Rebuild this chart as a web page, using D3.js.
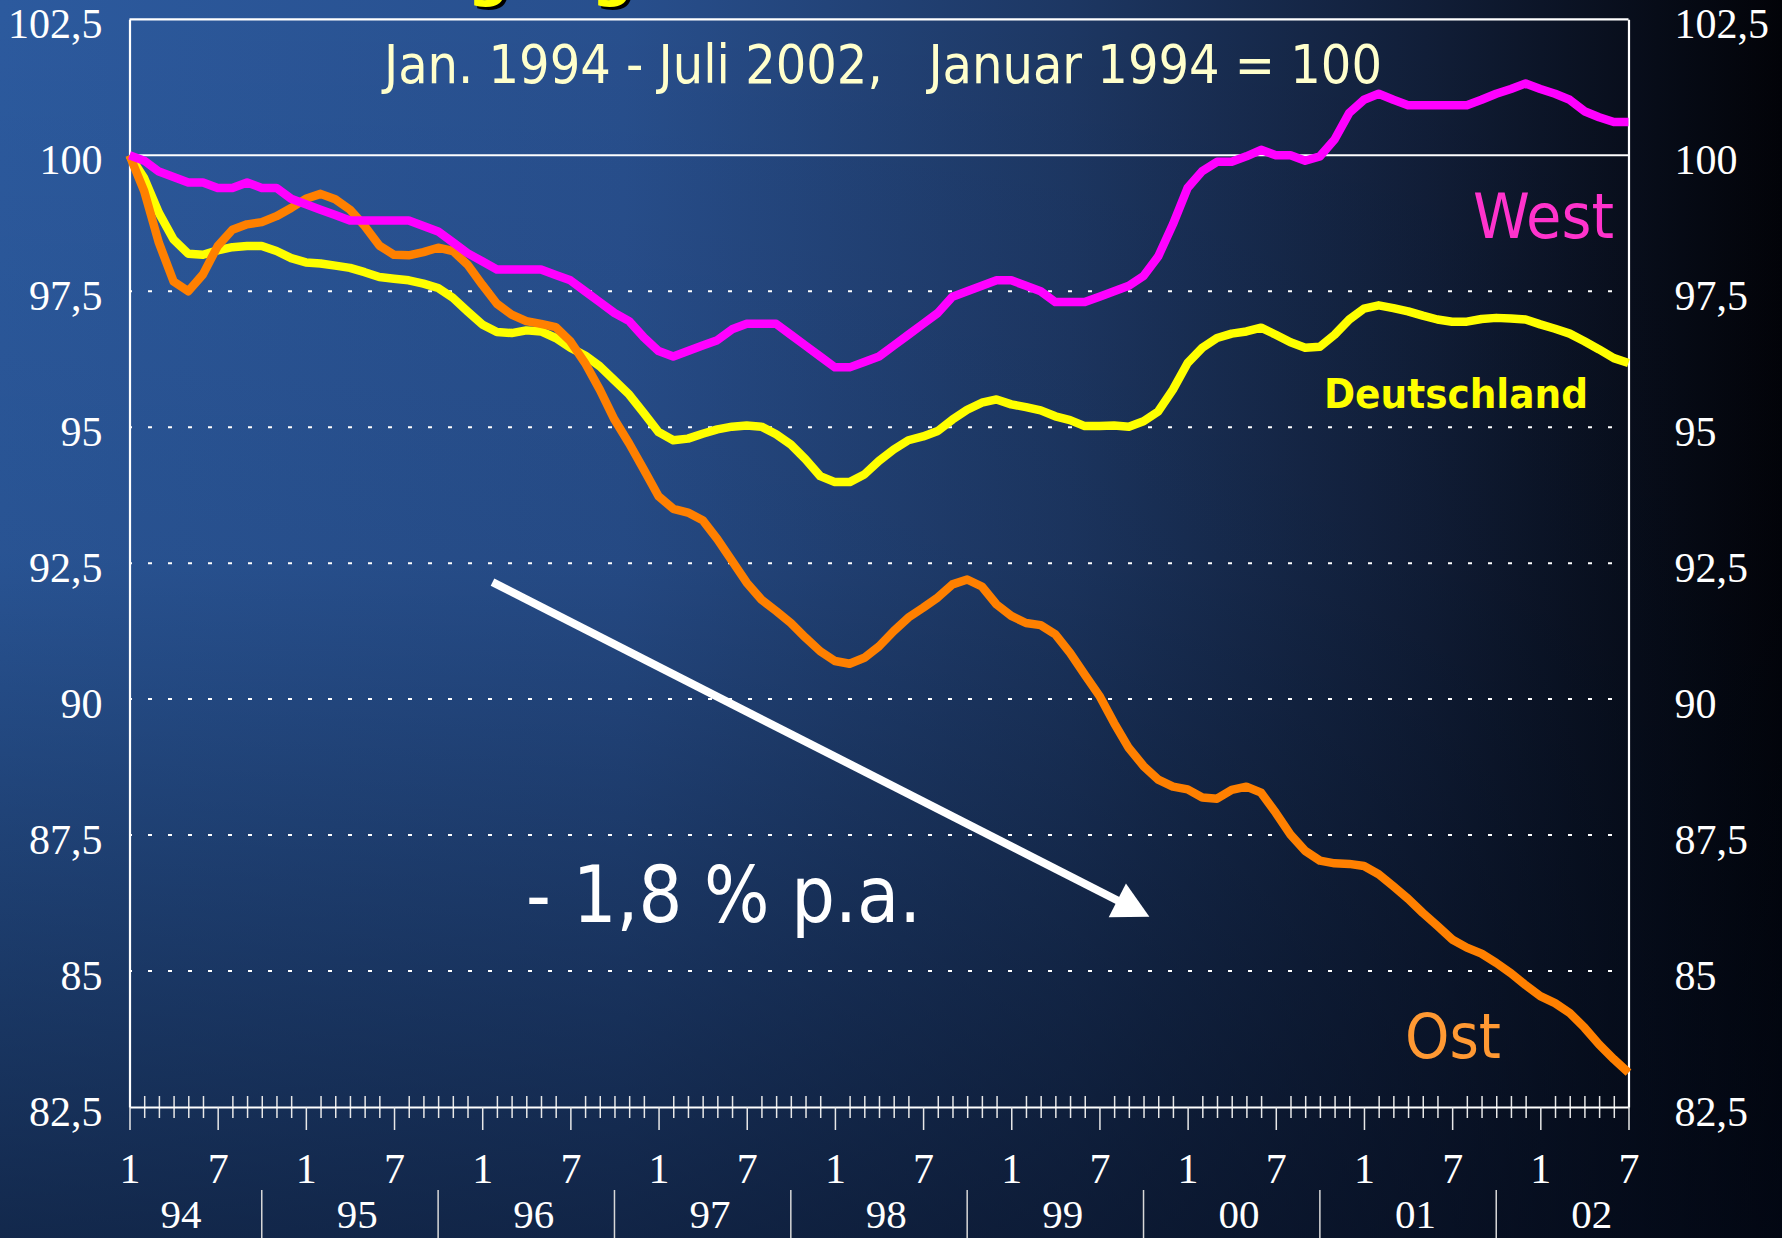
<!DOCTYPE html>
<html>
<head>
<meta charset="utf-8">
<script src="https://cdn.jsdelivr.net/npm/d3@7"></script>
<style>
  html, body { margin: 0; padding: 0; background: #000; overflow: hidden; }
  svg { display: block; }
</style>
</head>
<body>
<div id="chart"></div>
<script>
// 月次データ Jan 1994 - Jul 2002 (Januar 1994 = 100)
const West = [100.0, 99.9, 99.7, 99.6, 99.5, 99.5, 99.4, 99.4, 99.5, 99.4, 99.4, 99.2,
  99.1, 99.0, 98.9, 98.8, 98.8, 98.8, 98.8, 98.8, 98.7, 98.6, 98.4, 98.2,
  98.05, 97.9, 97.9, 97.9, 97.9, 97.8, 97.7, 97.5, 97.3, 97.1, 96.95, 96.65,
  96.4, 96.3, 96.4, 96.5, 96.6, 96.8, 96.9, 96.9, 96.9, 96.7, 96.5, 96.3,
  96.1, 96.1, 96.2, 96.3, 96.5, 96.7, 96.9, 97.1, 97.4, 97.5, 97.6, 97.7,
  97.7, 97.6, 97.5, 97.3, 97.3, 97.3, 97.4, 97.5, 97.6, 97.78, 98.14, 98.73,
  99.4, 99.71, 99.88, 99.88, 99.98, 100.1, 100.0, 100.0, 99.9, 99.98, 100.29, 100.78,
  101.02, 101.13, 101.02, 100.92, 100.92, 100.92, 100.92, 100.92, 101.02, 101.13, 101.22, 101.32,
  101.22, 101.13, 101.02, 100.81, 100.7, 100.61, 100.61];

const Deutschland = [100.0, 99.58, 98.94, 98.45, 98.19, 98.17, 98.25, 98.31, 98.33, 98.33, 98.24, 98.11,
  98.03, 98.01, 97.97, 97.93, 97.85, 97.76, 97.73, 97.70, 97.64, 97.56, 97.38, 97.13,
  96.89, 96.75, 96.73, 96.78, 96.76, 96.64, 96.46, 96.32, 96.12, 95.86, 95.6, 95.26,
  94.91, 94.76, 94.79, 94.88, 94.96, 95.01, 95.03, 95.01, 94.87, 94.68, 94.41, 94.10,
  93.99, 93.99, 94.13, 94.38, 94.59, 94.76, 94.83, 94.93, 95.14, 95.32, 95.45, 95.51,
  95.42, 95.37, 95.31, 95.20, 95.13, 95.02, 95.02, 95.03, 95.01, 95.11, 95.29, 95.69,
  96.18, 96.46, 96.64, 96.72, 96.76, 96.83, 96.70, 96.56, 96.46, 96.48, 96.70, 96.98,
  97.18, 97.24, 97.19, 97.13, 97.05, 96.98, 96.94, 96.94, 96.99, 97.01, 97.00, 96.98,
  96.89, 96.81, 96.72, 96.58, 96.43, 96.27, 96.18];

const Ost = [100.0, 99.34, 98.39, 97.68, 97.50, 97.81, 98.33, 98.63, 98.73, 98.77, 98.88, 99.03,
  99.20, 99.29, 99.19, 99.00, 98.70, 98.34, 98.17, 98.16, 98.22, 98.30, 98.24, 97.99,
  97.62, 97.27, 97.07, 96.95, 96.90, 96.84, 96.58, 96.18, 95.69, 95.14, 94.7, 94.22,
  93.73, 93.50, 93.43, 93.29, 92.94, 92.54, 92.14, 91.83, 91.62, 91.40, 91.13, 90.88,
  90.70, 90.65, 90.76, 90.97, 91.25, 91.50, 91.68, 91.87, 92.11, 92.20, 92.07, 91.74,
  91.53, 91.40, 91.36, 91.19, 90.85, 90.45, 90.06, 89.56, 89.1, 88.77, 88.52, 88.39,
  88.34, 88.19, 88.17, 88.33, 88.39, 88.28, 87.91, 87.51, 87.21, 87.03, 86.98, 86.97,
  86.93, 86.78, 86.56, 86.33, 86.07, 85.83, 85.58, 85.43, 85.32, 85.15, 84.96, 84.74,
  84.54, 84.41, 84.23, 83.96, 83.65, 83.38, 83.13];

const yTicks = [82.5, 85, 87.5, 90, 92.5, 95, 97.5, 100, 102.5];
const gridValues = [85, 87.5, 90, 92.5, 95, 97.5];
const monthLabels = ["1", "7"];
const yearLabels = ["94", "95", "96", "97", "98", "99", "00", "01", "02"];
const titleText = "Jan. 1994 - Juli 2002,   Januar 1994 = 100";
const headText = "Beschäftigung";
const trendText = "- 1,8 % p.a.";
// トレンド矢印 (月インデックス, 値)
const trendFrom = [24.7, 92.15];
const trendTo = [69.4, 86.0];

const DrawLineChart = () => {
  let width = 1782;
  let height = 1238;
  let margin = { "top": 19.3, "bottom": 131, "right": 153.5, "left": 129.5 };
  const nMonths = West.length - 1;

  // 2. SVG領域の設定
  let svg = d3.select("#chart").append("svg").attr("width", width).attr("height", height);
  let defs = svg.append("defs");

  let gh = defs.append("linearGradient").attr("id", "bgH")
    .attr("x1", "0").attr("y1", "0").attr("x2", "1").attr("y2", "0");
  [["0", "#2c5a9e"], ["0.35", "#284f8d"], ["0.6", "#1d3763"], ["0.8", "#111e38"], ["0.93", "#070c18"], ["1", "#020308"]]
    .forEach(s => gh.append("stop").attr("offset", s[0]).attr("stop-color", s[1]));
  let gv = defs.append("linearGradient").attr("id", "bgV")
    .attr("x1", "0").attr("y1", "0").attr("x2", "0").attr("y2", "1");
  [["0", "#000814", 0], ["0.45", "#000814", 0.08], ["1", "#030a1a", 0.62]]
    .forEach(s => gv.append("stop").attr("offset", s[0]).attr("stop-color", s[1]).attr("stop-opacity", s[2]));

  svg.append("rect").attr("width", width).attr("height", height).attr("fill", "url(#bgH)");
  svg.append("rect").attr("width", width).attr("height", height).attr("fill", "url(#bgV)");

  // 見出し (上端で切れている)
  svg.append("text").attr("x", 165).attr("y", -2).attr("font-family", "DejaVu Sans").attr("font-weight", "bold")
    .attr("font-size", 58).attr("fill", "#000").text(headText);
  svg.append("text").attr("x", 162).attr("y", -5).attr("font-family", "DejaVu Sans").attr("font-weight", "bold")
    .attr("font-size", 58).attr("fill", "#ffff00").text(headText);

  // 3. 軸スケールの設定
  let xScale = d3.scaleLinear()
    .domain([0, nMonths])
    .range([margin.left, width - margin.right]);

  let yScale = d3.scaleLinear()
    .domain([82.5, 102.5])
    .range([height - margin.bottom, margin.top]);

  // グリッド線
  svg.append("g")
    .selectAll("line")
    .data(gridValues)
    .enter()
    .append("line")
    .attr("x1", xScale(0)).attr("x2", xScale(nMonths))
    .attr("y1", d => yScale(d)).attr("y2", d => yScale(d))
    .attr("stroke", "#ffffff").attr("stroke-width", 2)
    .attr("stroke-dasharray", "4,16").attr("stroke-dashoffset", 1.5);

  // 枠と100の線
  [100, 102.5].forEach(v => {
    svg.append("line")
      .attr("x1", xScale(0)).attr("x2", xScale(nMonths))
      .attr("y1", yScale(v)).attr("y2", yScale(v))
      .attr("stroke", "#ffffff").attr("stroke-width", 2.2);
  });

  // 4. 軸の表示
  let fmt = d => String(d).replace(".", ",");

  let axisL = svg.append("g")
    .attr("transform", "translate(" + margin.left + "," + 0 + ")")
    .call(d3.axisLeft(yScale).tickValues(yTicks).tickSize(0).tickFormat(fmt));
  axisL.select(".domain").attr("stroke", "#ffffff").attr("stroke-width", 2.2);
  axisL.selectAll("text")
    .attr("x", -27).attr("dy", "0.43em")
    .attr("fill", "#ffffff").attr("font-family", "Liberation Serif").attr("font-size", 42);

  let axisR = svg.append("g")
    .attr("transform", "translate(" + (width - margin.right) + "," + 0 + ")")
    .call(d3.axisRight(yScale).tickValues(yTicks).tickSize(0).tickFormat(fmt));
  axisR.select(".domain").attr("stroke", "#ffffff").attr("stroke-width", 2.2);
  axisR.selectAll("text")
    .attr("x", 46).attr("dy", "0.43em")
    .attr("fill", "#ffffff").attr("font-family", "Liberation Serif").attr("font-size", 42);

  // 月の目盛 (小)
  let minor = d3.range(0, nMonths + 1).filter(d => d % 6 != 0);
  let axisMinor = svg.append("g")
    .attr("transform", "translate(" + 0 + "," + (height - margin.bottom - 11) + ")")
    .call(d3.axisBottom(xScale).tickValues(minor).tickSize(22).tickFormat(""));
  axisMinor.select(".domain").remove();
  axisMinor.selectAll("line").attr("stroke", "#e8e8e8").attr("stroke-width", 1.5);

  // 月の目盛 (大) とラベル
  let axisx = svg.append("g")
    .attr("transform", "translate(" + 0 + "," + (height - margin.bottom) + ")")
    .call(d3.axisBottom(xScale).tickValues(d3.range(0, nMonths + 1, 6)).tickSize(23).tickSizeOuter(0)
      .tickFormat(d => monthLabels[(d / 6) % 2]));
  axisx.select(".domain").attr("stroke", "#ffffff").attr("stroke-width", 2.2);
  axisx.selectAll("line").attr("stroke", "#e8e8e8").attr("stroke-width", 1.5);
  axisx.selectAll("text")
    .attr("y", 76).attr("dy", 0)
    .attr("fill", "#ffffff").attr("font-family", "Liberation Serif").attr("font-size", 42);

  // 年のラベルと区切り
  svg.append("g")
    .selectAll("text")
    .data(yearLabels)
    .enter()
    .append("text")
    .attr("x", (d, i) => xScale(3.5 + 12 * i))
    .attr("y", 1228)
    .attr("text-anchor", "middle")
    .attr("fill", "#ffffff").attr("font-family", "Liberation Serif").attr("font-size", 41)
    .text(d => d);

  svg.append("g")
    .selectAll("line")
    .data(yearLabels.slice(1))
    .enter()
    .append("line")
    .attr("x1", (d, i) => xScale(9 + 12 * i)).attr("x2", (d, i) => xScale(9 + 12 * i))
    .attr("y1", 1190).attr("y2", height)
    .attr("stroke", "#d8d8d8").attr("stroke-width", 1.5);

  // 5. ラインの表示
  let line = d3.line()
    .x((d, i) => xScale(i))
    .y(d => yScale(d));

  [[Deutschland, "#ffff00"], [Ost, "#ff8000"], [West, "#ff00ff"]].forEach(s => {
    svg.append("path")
      .datum(s[0])
      .attr("fill", "none")
      .attr("stroke", s[1])
      .attr("stroke-width", 8.5)
      .attr("stroke-linejoin", "round")
      .attr("d", line);
  });

  // トレンド矢印
  let x1 = xScale(trendFrom[0]), y1 = yScale(trendFrom[1]);
  let x2 = xScale(trendTo[0]), y2 = yScale(trendTo[1]);
  let len = Math.hypot(x2 - x1, y2 - y1);
  let ux = (x2 - x1) / len, uy = (y2 - y1) / len;
  let headL = 36, headW = 19;
  let bx = x2 - ux * headL, by = y2 - uy * headL;
  svg.append("line")
    .attr("x1", x1).attr("y1", y1).attr("x2", bx + ux * 2).attr("y2", by + uy * 2)
    .attr("stroke", "#ffffff").attr("stroke-width", 8);
  svg.append("path")
    .attr("d", "M" + x2 + "," + y2 + "L" + (bx - uy * headW) + "," + (by + ux * headW) +
      "L" + (bx + uy * headW) + "," + (by - ux * headW) + "Z")
    .attr("fill", "#ffffff");

  // テキスト
  let addText = (t, x, y, size, color, len, bold) => {
    svg.append("text")
      .attr("x", x).attr("y", y)
      .attr("font-family", "DejaVu Sans Condensed, DejaVu Sans")
      .attr("font-size", size)
      .attr("font-weight", bold ? "bold" : "normal")
      .attr("fill", color)
      .attr("textLength", len).attr("lengthAdjust", "spacingAndGlyphs")
      .style("white-space", "pre")
      .text(t);
  };
  addText(titleText, 384, 83, 54, "#ffffcc", 998, false);
  addText("West", 1473, 238, 63, "#ff33cc", 141, false);
  addText("Deutschland", 1324, 408, 41, "#ffff00", 264, true);
  addText("Ost", 1405, 1058, 63, "#ff9933", 96, false);
  addText(trendText, 526, 922, 78, "#ffffff", 395, false);
}

DrawLineChart();
</script>
</body>
</html>
